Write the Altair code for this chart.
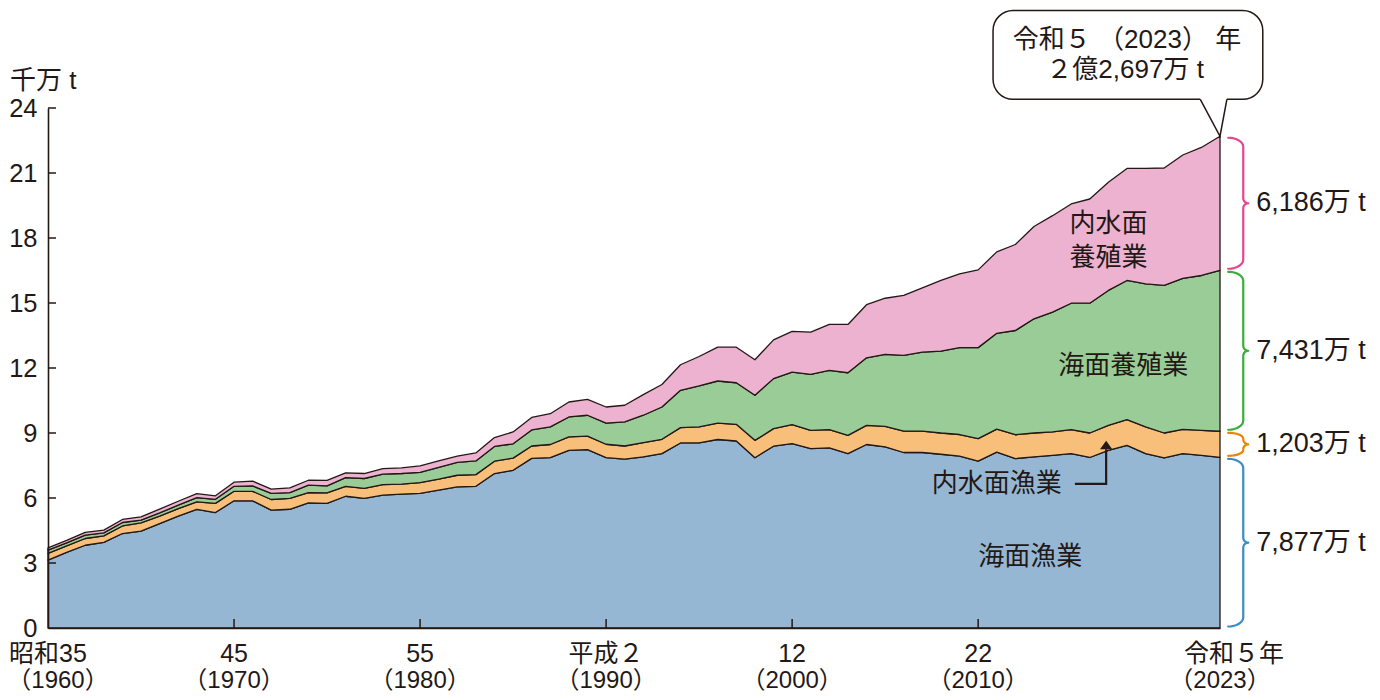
import altair as alt
import numpy as np
import pandas as pd

# ---------------- data (千万 t) ----------------
years = list(range(1960, 2024))

marine_capture = [  # 海面漁業
    3.13, 3.49, 3.82, 3.95, 4.36, 4.47, 4.82, 5.16, 5.47, 5.33,
    5.87, 5.87, 5.44, 5.48, 5.77, 5.75, 6.08, 5.98, 6.13, 6.18,
    6.21, 6.36, 6.51, 6.54, 7.13, 7.28, 7.83, 7.86, 8.20, 8.23,
    7.86, 7.79, 7.90, 8.05, 8.54, 8.54, 8.70, 8.63, 7.86, 8.39,
    8.51, 8.28, 8.31, 8.05, 8.47, 8.36, 8.10, 8.10, 8.02, 7.93,
    7.70, 8.12, 7.82, 7.90, 7.97, 8.05, 7.87, 8.20, 8.43, 8.05,
    7.85, 8.05, 7.97, 7.877]

inland_capture = [  # 内水面漁業
    0.31, 0.30, 0.31, 0.30, 0.35, 0.38, 0.34, 0.35, 0.35, 0.42,
    0.44, 0.44, 0.49, 0.50, 0.48, 0.49, 0.46, 0.46, 0.49, 0.46,
    0.50, 0.51, 0.54, 0.54, 0.57, 0.56, 0.57, 0.61, 0.62, 0.63,
    0.62, 0.61, 0.66, 0.66, 0.71, 0.74, 0.76, 0.77, 0.80, 0.81,
    0.88, 0.84, 0.85, 0.84, 0.88, 0.95, 0.99, 0.99, 0.98, 1.00,
    1.04, 1.06, 1.10, 1.10, 1.08, 1.11, 1.13, 1.15, 1.19, 1.23,
    1.15, 1.12, 1.15, 1.203]

marine_aqua = [  # 海面養殖業
    0.15, 0.14, 0.16, 0.14, 0.16, 0.13, 0.15, 0.16, 0.20, 0.19,
    0.23, 0.25, 0.28, 0.27, 0.34, 0.32, 0.40, 0.46, 0.48, 0.49,
    0.47, 0.54, 0.59, 0.63, 0.68, 0.66, 0.74, 0.81, 0.92, 0.96,
    0.98, 1.11, 1.26, 1.49, 1.72, 1.89, 1.94, 1.92, 2.08, 2.31,
    2.42, 2.59, 2.73, 2.89, 3.12, 3.32, 3.49, 3.64, 3.78, 4.01,
    4.20, 4.42, 4.81, 5.27, 5.53, 5.83, 5.99, 6.23, 6.42, 6.60,
    6.81, 6.97, 7.15, 7.431]

inland_aqua = [  # 内水面養殖業
    0.11, 0.11, 0.12, 0.13, 0.14, 0.15, 0.18, 0.18, 0.18, 0.16,
    0.19, 0.22, 0.20, 0.22, 0.23, 0.25, 0.22, 0.23, 0.26, 0.26,
    0.30, 0.30, 0.29, 0.37, 0.41, 0.55, 0.58, 0.61, 0.69, 0.73,
    0.74, 0.77, 0.95, 1.04, 1.18, 1.36, 1.56, 1.64, 1.64, 1.79,
    1.88, 1.95, 2.12, 2.23, 2.45, 2.59, 2.77, 2.97, 3.26, 3.40,
    3.59, 3.76, 3.97, 4.26, 4.45, 4.58, 4.81, 4.99, 5.17, 5.33,
    5.42, 5.69, 5.91, 6.186]

series_names = ["海面漁業", "内水面漁業", "海面養殖業", "内水面養殖業"]
fill_colors = ["#96b7d3", "#f7bf7a", "#9acc97", "#edb2cf"]
brace_colors = ["#3a8cc4", "#ef8200", "#3aae3a", "#e4478f"]

y_ticks = [0, 3, 6, 9, 12, 15, 18, 21, 24]
x_tick_years = [1960, 1970, 1980, 1990, 2000, 2010, 2023]
era_labels = ["昭和35", "45", "55", "平成２", "12", "22", "令和５年"]
ad_labels = ["（1960）", "（1970）", "（1980）", "（1990）", "（2000）", "（2010）", "（2023）"]

area_label_text = ["内水面", "養殖業", "海面養殖業", "内水面漁業", "海面漁業"]
area_label_year = [2017.0, 2017.0, 2017.8, 2011.0, 2012.8]
area_label_value = [18.65, 17.08, 12.09, 6.65, 3.28]

callout_lines = ["令和５ （2023） 年", "２億2,697万 t"]

# ---------------- style ----------------
INK = "#231815"
FONT = "Liberation Sans, Noto Sans CJK JP"
W, H = 1172, 520

xs = alt.Scale(domain=[1960, 2023], nice=False, zero=False)
ys = alt.Scale(domain=[0, 24], nice=False, zero=True)
X_AXIS = alt.Axis(values=x_tick_years, labels=False, ticks=False, grid=False,
                  title=None, domainColor=INK, domainWidth=1.6, zindex=1)
Y_AXIS = alt.Axis(values=y_ticks, ticks=False, grid=False, title=None,
                  domainColor=INK, domainWidth=1.6, labelFont="Liberation Sans",
                  labelFontSize=25.5, labelColor=INK, labelPadding=11, zindex=1)


def ex(f="year"):
    return alt.X(f"{f}:Q", scale=xs, axis=X_AXIS)


def ey(f="value", stack=False):
    return alt.Y(f"{f}:Q", scale=ys, axis=Y_AXIS, stack=stack)


# ---------------- stacked areas ----------------
rows = []
all_series = [marine_capture, inland_capture, marine_aqua, inland_aqua]
for k, (name, vals) in enumerate(zip(series_names, all_series)):
    for yr, v in zip(years, vals):
        rows.append({"year": yr, "value": v, "series": name, "ord": k})
df = pd.DataFrame(rows)

area = alt.Chart(df).mark_area(stroke=INK, strokeWidth=1.3, strokeJoin="round", opacity=1).encode(
    x=ex(),
    y=ey(stack="zero"),
    fill=alt.Fill("series:N", scale=alt.Scale(domain=series_names, range=fill_colors), legend=None),
    order=alt.Order("ord:Q", sort="ascending"),
)

# inward ticks
ytick = alt.Chart(pd.DataFrame({"value": y_ticks[1:]})).mark_rule(color=INK, strokeWidth=1.5).encode(
    y=ey(), x=alt.value(0), x2=alt.value(8))
xtick = alt.Chart(pd.DataFrame({"year": x_tick_years[1:-1]})).mark_rule(color=INK, strokeWidth=1.5).encode(
    x=ex(), y=alt.value(H), y2=alt.value(H - 9))

# x labels
lab = pd.DataFrame({"year": x_tick_years, "era": era_labels, "ad": ad_labels})
txt_style = dict(font=FONT, fontSize=25, color=INK, baseline="middle", align="center")
ad_style = dict(font=FONT, fontSize=24, color=INK, baseline="middle", align="center")
era_txt = alt.Chart(lab.iloc[:-1]).mark_text(**txt_style).encode(
    x=ex(), y=alt.value(H + 26), text="era:N")
era_last = alt.Chart(lab.iloc[-1:]).mark_text(dx=14, **txt_style).encode(
    x=ex(), y=alt.value(H + 26), text="era:N")
ad_first = alt.Chart(lab.iloc[:1]).mark_text(dx=10, **ad_style).encode(
    x=ex(), y=alt.value(H + 53), text="ad:N")
ad_txt = alt.Chart(lab.iloc[1:]).mark_text(**ad_style).encode(
    x=ex(), y=alt.value(H + 53), text="ad:N")

unit = alt.Chart(pd.DataFrame({"t": ["千万 t"]})).mark_text(
    font=FONT, fontSize=26, color=INK, align="left", baseline="middle").encode(
    x=alt.value(-38), y=alt.value(-27), text="t:N")

# area labels
ann = pd.DataFrame({"year": area_label_year, "value": area_label_value, "t": area_label_text})
ann_txt = alt.Chart(ann).mark_text(font=FONT, fontSize=26, color=INK, baseline="middle", align="center").encode(
    x=ex(), y=ey(), text="t:N")

# arrow to 内水面漁業
arr = pd.DataFrame({"year": [2015.2, 2016.88, 2016.88], "value": [6.65, 6.65, 8.25], "i": [0, 1, 2]})
arrow = alt.Chart(arr).mark_line(color=INK, strokeWidth=2.2, strokeJoin="miter").encode(
    x=ex(), y=ey(), order="i:Q")
head = alt.Chart(pd.DataFrame({"year": [2016.88], "value": [8.45]})).mark_point(
    shape="M-1,0.7L0,-0.7L1,0.7Z", filled=True, size=150, color=INK, opacity=1, strokeWidth=0).encode(
    x=ex(), y=ey())

# callout
last = [s[-1] for s in all_series]
bounds = [0.0] + list(np.cumsum(last))
total = bounds[-1]

box = alt.Chart(pd.DataFrame({"year": [2010.8], "year2": [2025.3], "value": [24.40], "value2": [28.5]})).mark_rect(
    cornerRadius=20, fill="white", stroke=INK, strokeWidth=1.5).encode(
    x=ex(), x2="year2:Q", y=ey(), y2="value2:Q")
ptr_fill = alt.Chart(pd.DataFrame({"year": [2021.94, 2023.0, 2023.37],
                                   "value": [24.47, 24.47, 24.47],
                                   "value2": [24.40, total, 24.40]})).mark_area(
    fill="white", opacity=1).encode(x=ex(), y=ey(), y2="value2:Q")
ptr_line = alt.Chart(pd.DataFrame({"year": [2021.94, 2023.0, 2023.37],
                                   "value": [24.40, total, 24.40], "i": [0, 1, 2]})).mark_line(
    color=INK, strokeWidth=1.5, strokeJoin="miter").encode(x=ex(), y=ey(), order="i:Q")
ctext = alt.Chart(pd.DataFrame({"year": [2018.0, 2017.9], "value": [27.14, 25.75], "t": callout_lines})).mark_text(
    font=FONT, fontSize=26, color=INK, baseline="middle", align="center").encode(
    x=ex(), y=ey(), text="t:N")

# braces
X_END, X_STEM, X_TIP = 2023.44, 2024.25, 2024.52
brace_rows = []
for b in range(4):
    lo, hi = bounds[b], bounds[b + 1]
    span = hi - lo
    ry = min(0.42, span / 4.5)
    ry2 = min(0.23, span / 5.0)
    top, bot, mid = hi - 0.07, lo + 0.07, (lo + hi) / 2
    rx, rx2 = X_STEM - X_END, X_TIP - X_STEM
    pts = []
    for t in np.linspace(np.pi / 2, 0, 9):
        pts.append((X_END + rx * np.cos(t), top - ry + ry * np.sin(t)))
    for t in np.linspace(np.pi, 1.5 * np.pi, 7):
        pts.append((X_TIP + rx2 * np.cos(t), mid + ry2 + ry2 * np.sin(t)))
    for t in np.linspace(0.5 * np.pi, np.pi, 7):
        pts.append((X_TIP + rx2 * np.cos(t), mid - ry2 + ry2 * np.sin(t)))
    for t in np.linspace(0, -np.pi / 2, 9):
        pts.append((X_END + rx * np.cos(t), bot + ry + ry * np.sin(t)))
    for i, (px, py) in enumerate(pts):
        brace_rows.append({"year": px, "value": py, "i": i, "b": b, "col": brace_colors[b]})
braces = alt.Chart(pd.DataFrame(brace_rows)).mark_line(strokeWidth=2.2, strokeCap="round", strokeJoin="round").encode(
    x=ex(), y=ey(), order="i:Q", detail="b:N", stroke=alt.Stroke("col:N", scale=None))

mids = [(bounds[i] + bounds[i + 1]) / 2 for i in range(4)]
blabels = [f"{int(round(v * 1000)):,}万 t" for v in last]
blab = alt.Chart(pd.DataFrame({"year": [2024.95] * 4, "value": mids, "t": blabels})).mark_text(
    font=FONT, fontSize=27, color=INK, align="left", baseline="middle").encode(
    x=ex(), y=ey(), text="t:N")

chart = alt.layer(
    area, ytick, xtick, era_txt, era_last, ad_first, ad_txt, unit, ann_txt, arrow, head,
    box, ptr_fill, ptr_line, ctext, braces, blab
).properties(
    width=W, height=H,
    padding={"left": 40, "top": 100, "right": 152, "bottom": 70},
    autosize=alt.AutoSizeParams(type="none"),
    background="white",
).configure_view(strokeWidth=0)

chart.save("out.html", embed_options={"renderer": "svg", "actions": False})
